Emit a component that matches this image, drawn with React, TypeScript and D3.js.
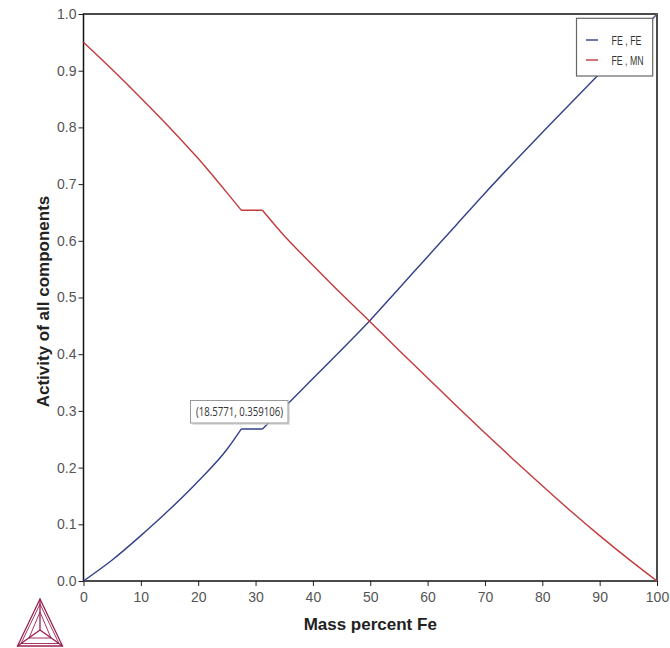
import React, { useEffect, useRef } from 'react';
import * as d3 from 'd3';

// mass percent Fe
const massFe = [0, 5, 10, 15, 20, 25, 27.5, 31.2, 35, 40, 45, 50, 55, 60, 65, 70, 75, 80, 85, 90, 95, 100];
// activity of Fe (FE , FE)
const actFe = [0, 0.037, 0.08, 0.126, 0.176, 0.232, 0.268, 0.268, 0.306, 0.357, 0.408, 0.46, 0.516, 0.572, 0.628, 0.684, 0.738, 0.791, 0.843, 0.895, 0.947, 1.0];
// activity of Mn (FE , MN)
const actMn = [0.95, 0.902, 0.852, 0.8, 0.745, 0.685, 0.654, 0.654, 0.609, 0.557, 0.506, 0.457, 0.407, 0.358, 0.309, 0.261, 0.214, 0.168, 0.123, 0.08, 0.039, 0];
// the two-phase plateau runs between these indices
const plateau = [6, 7];

const seriesNames = ['FE , FE', 'FE , MN'];
const seriesColors = ['#33408a', '#c4393c'];
const xTicks = [0, 10, 20, 30, 40, 50, 60, 70, 80, 90, 100];
const yTicks = [0, 0.1, 0.2, 0.3, 0.4, 0.5, 0.6, 0.7, 0.8, 0.9, 1.0];
const tooltipText = '(18.5771, 0.359106)';

const W = 670;
const H = 648;
const FONT = 'Liberation Sans, Arial, sans-serif';

const App = () => {
  const svgRef = useRef<SVGSVGElement>(null);

  useEffect(() => {
    const svg = d3.select(svgRef.current);
    svg.selectAll('*').remove();

    const left = 83.5, right = 657, top = 14, bottom = 581;
    const x = d3.scaleLinear().domain([0, 100]).range([left, right]);
    const y = d3.scaleLinear().domain([0, 1]).range([bottom, top]);

    svg.append('rect').attr('width', W).attr('height', H).attr('fill', '#fff');

    // ticks
    const xAxis = svg.append('g').attr('transform', `translate(0,${bottom})`)
      .call(d3.axisBottom(x).tickValues(xTicks).tickSize(5).tickPadding(6).tickFormat(d3.format('d')));
    const yAxis = svg.append('g').attr('transform', `translate(${left},0)`)
      .call(d3.axisLeft(y).tickValues(yTicks).tickSize(5).tickPadding(2).tickFormat(d3.format('.1f')));
    [xAxis, yAxis].forEach(a => {
      a.select('.domain').remove();
      a.selectAll('line').attr('stroke', '#222');
      a.selectAll('text').attr('fill', '#555').attr('font-size', 14).attr('font-family', FONT);
    });

    // frame
    svg.append('rect')
      .attr('x', left).attr('y', top)
      .attr('width', right - left).attr('height', bottom - top)
      .attr('fill', 'none').attr('stroke', '#111').attr('stroke-width', 1.5);

    // curves: smooth single-phase parts, straight plateau, sharp corners
    const line = d3.line<[number, number]>()
      .x(d => x(d[0]))
      .y(d => y(d[1]))
      .curve(d3.curveMonotoneX);
    [actFe, actMn].forEach((vals, i) => {
      const pts: [number, number][] = vals.map((v, j) => [massFe[j], v]);
      const parts = [
        pts.slice(0, plateau[0] + 1),
        pts.slice(plateau[0], plateau[1] + 1),
        pts.slice(plateau[1]),
      ];
      svg.append('path')
        .attr('d', parts.map(p => line(p)).join(''))
        .attr('fill', 'none')
        .attr('stroke', seriesColors[i])
        .attr('stroke-width', 1.4)
        .attr('stroke-linejoin', 'round');
    });

    // legend
    const lg = svg.append('g');
    lg.append('line').attr('x1', 652.7).attr('y1', 18.3).attr('x2', right).attr('y2', top)
      .attr('stroke', '#666').attr('stroke-width', 1);
    lg.append('rect')
      .attr('x', 576.5).attr('y', 18.3).attr('width', 76.2).attr('height', 57.7)
      .attr('fill', '#fff').attr('stroke', '#666').attr('stroke-width', 1.2);
    seriesNames.forEach((name, i) => {
      const ly = 40 + i * 20;
      lg.append('line').attr('x1', 586).attr('x2', 598).attr('y1', ly).attr('y2', ly)
        .attr('stroke', seriesColors[i]).attr('stroke-width', 1.4);
      lg.append('text').attr('x', 611.5).attr('y', ly + 4.5)
        .attr('font-family', FONT).attr('font-size', 12.5).attr('fill', '#333')
        .attr('textLength', i === 0 ? 30 : 32).attr('lengthAdjust', 'spacingAndGlyphs')
        .text(name);
    });

    // tooltip
    const tip = svg.append('g');
    tip.append('rect').attr('x', 192.5).attr('y', 402.5).attr('width', 97.5).attr('height', 22.5)
      .attr('fill', '#ccc').attr('opacity', 0.6);
    tip.append('rect').attr('x', 190.5).attr('y', 400.5).attr('width', 97.5).attr('height', 22.5)
      .attr('fill', '#fff').attr('stroke', '#999').attr('stroke-width', 1);
    tip.append('text').attr('x', 196).attr('y', 416)
      .attr('font-family', 'Open Sans, sans-serif').attr('font-size', 12.5).attr('fill', '#333')
      .attr('textLength', 87).attr('lengthAdjust', 'spacingAndGlyphs')
      .text(tooltipText);

    // axis titles
    svg.append('text')
      .attr('x', (left + right) / 2).attr('y', 630)
      .attr('text-anchor', 'middle')
      .attr('font-family', FONT).attr('font-size', 17).attr('font-weight', 'bold').attr('fill', '#222')
      .text('Mass percent Fe');
    svg.append('text')
      .attr('transform', `translate(49,${(top + bottom) / 2 + 4}) rotate(-90)`)
      .attr('text-anchor', 'middle')
      .attr('font-family', FONT).attr('font-size', 17).attr('font-weight', 'bold').attr('fill', '#222')
      .text('Activity of all components');

    // logo
    const logo = svg.append('g').attr('fill', 'none').attr('stroke', '#9b2050').attr('stroke-width', 1.3);
    const A: [number, number] = [40, 599], B: [number, number] = [17.5, 646], C: [number, number] = [62.5, 646];
    const O: [number, number] = [40, 630];
    logo.append('path').attr('d', `M${A}L${B}L${C}Z`);
    logo.append('path').attr('d', `M40,604L21,643.5L59,643.5Z`).attr('stroke-width', 0.9);
    logo.append('path').attr('d', `M${A}L${O}M${B}L${O}M${C}L${O}`);
    logo.append('path').attr('d', `M40,612L29,638L51,638Z`).attr('stroke-width', 0.9);
  }, []);

  return (
    <svg ref={svgRef} width={W} height={H}
      style={{ position: 'absolute', left: 0, top: 0, display: 'block' }} />
  );
};

export default App;
